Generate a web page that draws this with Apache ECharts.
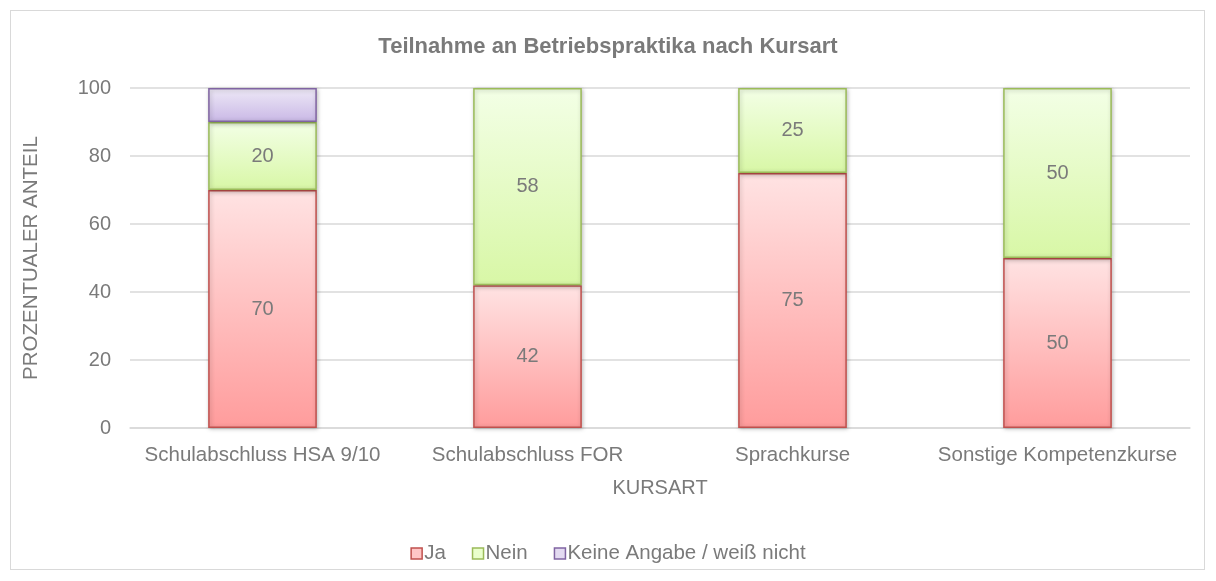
<!DOCTYPE html>
<html>
<head>
<meta charset="utf-8">
<script src="https://cdn.jsdelivr.net/npm/echarts@6/dist/echarts.min.js"></script>
<style>
  html, body { margin: 0; padding: 0; background: #fff; }
  #chart { width: 1216px; height: 581px; }
  .frame { position: absolute; left: 10px; top: 10px; width: 1195px; height: 560px; border: 1px solid #d9d9d9; box-sizing: border-box; pointer-events: none; }
</style>
</head>
<body>
<div id="chart"></div>
<div class="frame"></div>
<script>
const categories = ['Schulabschluss HSA 9/10', 'Schulabschluss FOR', 'Sprachkurse', 'Sonstige Kompetenzkurse']
const jaValues = [70, 42, 75, 50]
const neinValues = [20, 58, 25, 50]
const keineValues = [10, 0, 0, 0]

const font = 'Arial, "Liberation Sans", sans-serif'
const textColor = '#7a7a7a'

function grad(top, bottom) {
  return new echarts.graphic.LinearGradient(0, 0, 0, 1, [
    { offset: 0, color: top },
    { offset: 1, color: bottom }
  ])
}

// zero-height segments would leave a border line, so drop them
function segs(values) {
  return values.map(v => (v ? v : '-'))
}

function barSeries(name, data, top, bottom, border, showLabel) {
  return {
    name: name,
    type: 'bar',
    stack: 'total',
    barWidth: '41%',
    data: segs(data),
    itemStyle: {
      color: grad(top, bottom),
      borderColor: border,
      borderWidth: 1.5,
      shadowColor: 'rgba(0,0,0,0.25)',
      shadowBlur: 4,
      shadowOffsetX: 1,
      shadowOffsetY: 1
    },
    label: {
      show: showLabel,
      position: 'inside',
      color: textColor,
      fontSize: 20,
      fontFamily: font
    }
  }
}

const chart = echarts.init(document.getElementById('chart'))
chart.setOption({
  animation: false,
  title: {
    text: 'Teilnahme an Betriebspraktika nach Kursart',
    left: 'center',
    top: 31,
    textStyle: { color: textColor, fontSize: 22, fontWeight: 'bold', fontFamily: font }
  },
  grid: { left: 130, right: 26, top: 88, bottom: 153 },
  legend: {
    top: 538,
    left: 'center',
    itemWidth: 11,
    itemHeight: 11,
    itemGap: 26,
    icon: 'rect',
    textStyle: { color: textColor, fontSize: 20.5, fontFamily: font, padding: [0, 0, 0, -3] },
    data: [
      { name: 'Ja', itemStyle: { color: '#ffc6c6', borderColor: '#c0504d', borderWidth: 1.5 } },
      { name: 'Nein', itemStyle: { color: '#eaffcc', borderColor: '#9bbb59', borderWidth: 1.5 } },
      { name: 'Keine Angabe / weiß nicht', itemStyle: { color: '#e3daf1', borderColor: '#8064a2', borderWidth: 1.5 } }
    ]
  },
  xAxis: {
    type: 'category',
    data: categories,
    name: 'KURSART',
    nameLocation: 'middle',
    nameGap: 50,
    nameTextStyle: { color: textColor, fontSize: 20, fontFamily: font },
    axisLine: { lineStyle: { color: '#d9d9d9', width: 1.5 } },
    axisTick: { show: false },
    axisLabel: { color: textColor, fontSize: 20.5, fontFamily: font, margin: 17, interval: 0 }
  },
  yAxis: {
    type: 'value',
    min: 0,
    max: 100,
    interval: 20,
    name: 'PROZENTUALER ANTEIL',
    nameLocation: 'middle',
    nameGap: 88,
    nameTextStyle: { color: textColor, fontSize: 20.5, fontFamily: font },
    axisLine: { show: false },
    axisTick: { show: false },
    axisLabel: { color: textColor, fontSize: 20, fontFamily: font, margin: 19 },
    splitLine: { lineStyle: { color: '#d9d9d9', width: 1.5 } }
  },
  series: [
    barSeries('Ja', jaValues, '#ffe3e3', '#ff9c9c', '#c0504d', true),
    barSeries('Nein', neinValues, '#f3ffe6', '#d8f7a6', '#9bbb59', true),
    barSeries('Keine Angabe / weiß nicht', keineValues, '#eee9f7', '#c9b8e6', '#8064a2', false)
  ]
})
</script>
</body>
</html>
